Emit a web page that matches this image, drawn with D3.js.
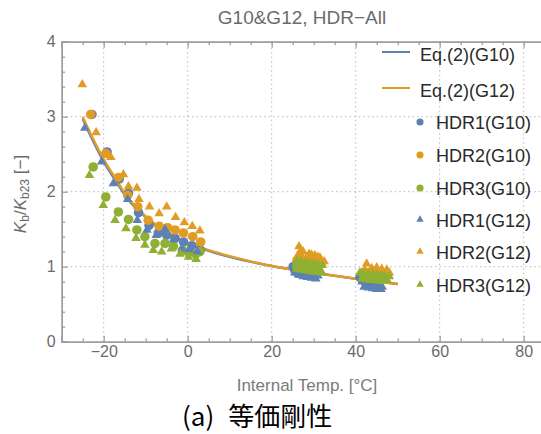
<!DOCTYPE html>
<html>
<head>
<meta charset="utf-8">
<script src="https://cdn.jsdelivr.net/npm/d3@7"></script>
<style>
  body { margin: 0; background: #fff; }
  svg { display: block; font-family: "Liberation Sans", Arial, sans-serif; }
</style>
</head>
<body>
<div id="chart"></div>
<script>
var WIDTH = 541;
var HEIGHT = 434;

// ----- data: [internal temp, Kb/Kb23]
var xTickValues = [-20, 0, 20, 40, 60, 80];
var yTickValues = [0, 1, 2, 3, 4];

var eqG10 = [[-25, 2.97], [-23, 2.73], [-20, 2.40], [-17, 2.13], [-14.5, 1.92], [-12, 1.76],
  [-10, 1.66], [-5, 1.45], [0, 1.31], [5, 1.21], [10, 1.13], [20, 1.01], [30, 0.92],
  [40, 0.84], [50, 0.77]];
var eqG12 = [[-25, 3.00], [-23, 2.76], [-20, 2.43], [-17, 2.16], [-14.5, 1.94], [-12, 1.78],
  [-10, 1.67], [-5, 1.46], [0, 1.32], [5, 1.22], [10, 1.14], [20, 1.01], [30, 0.92],
  [40, 0.84], [50, 0.77]];

var hdr1G10 = [[-22.8, 3.03], [-19.2, 2.53], [-16.3, 2.17], [-14.1, 1.98], [-11.7, 1.72],
  [-9.2, 1.55], [-7.0, 1.45], [-5.0, 1.42], [-3.0, 1.38], [-1.0, 1.33], [1.0, 1.28], [3.0, 1.22],
  [25.1, 1.00], [25.5, 0.95], [26.0, 0.92], [27.0, 0.90], [28.0, 0.89], [29.0, 0.88], [30.0, 0.87],
  [41.0, 0.86], [41.5, 0.83], [42.0, 0.81], [43.0, 0.79], [44.0, 0.78], [45.0, 0.77]];
var hdr2G10 = [[-23.1, 3.03], [-19.5, 2.51], [-16.5, 2.19], [-14.3, 1.95], [-11.9, 1.80],
  [-9.4, 1.62], [-6.8, 1.54], [-4.8, 1.52], [-3.0, 1.49], [-1.0, 1.45], [1.2, 1.40], [3.1, 1.33],
  [26.0, 1.08], [27.0, 1.07], [28.0, 1.06], [29.0, 1.05], [30.0, 1.04], [31.0, 1.03],
  [42.0, 0.93], [43.0, 0.92], [44.0, 0.91], [45.0, 0.90], [46.0, 0.89], [47.0, 0.88]];
var hdr3G10 = [[-22.5, 2.33], [-19.5, 1.93], [-16.5, 1.73], [-14.1, 1.63], [-12.1, 1.49],
  [-10.2, 1.40], [-7.8, 1.31], [-5.4, 1.31], [-3.4, 1.27], [-1.2, 1.22], [0.2, 1.19], [1.9, 1.17],
  [2.9, 1.20],
  [26.0, 1.00], [27.0, 0.99], [28.0, 0.98], [29.0, 0.97], [30.0, 0.96], [31.0, 0.95],
  [42.0, 0.87], [43.0, 0.86], [44.0, 0.86], [45.0, 0.85], [46.0, 0.85], [47.0, 0.84]];
var hdr1G12 = [[-24.5, 2.85], [-20.5, 2.40], [-17.7, 2.11], [-14.3, 1.90], [-12.0, 1.62],
  [-9.7, 1.49], [-7.5, 1.42], [-5.4, 1.50], [-3.4, 1.36], [-1.4, 1.24], [0.4, 1.23], [2.3, 1.20],
  [25.5, 0.92], [26.5, 0.89], [27.5, 0.87], [28.5, 0.86], [29.5, 0.85], [30.5, 0.84],
  [26.0, 0.95], [27.0, 0.93], [28.0, 0.91], [29.0, 0.90], [30.0, 0.89], [31.0, 0.88],
  [41.5, 0.80], [42.5, 0.78], [43.5, 0.76], [44.5, 0.75], [45.5, 0.74], [46.3, 0.73],
  [42.0, 0.73], [43.0, 0.72], [44.0, 0.71], [45.0, 0.70], [46.0, 0.70]];
var hdr2G12 = [[-25.1, 3.43], [-21.8, 2.79], [-18.3, 2.46], [-15.3, 2.23], [-14.1, 2.07],
  [-12.1, 2.05], [-11.6, 1.90], [-9.1, 1.80], [-6.8, 1.71], [-5.0, 1.80], [-2.9, 1.66],
  [-0.8, 1.59], [1.1, 1.54], [2.9, 1.48],
  [26.5, 1.27], [27.5, 1.20], [28.9, 1.17], [30.3, 1.15], [31.5, 1.12], [32.5, 1.07],
  [27.0, 1.22], [29.5, 1.16], [31.0, 1.13],
  [26.2, 1.15], [27.2, 1.14], [28.4, 1.12], [29.6, 1.10], [30.8, 1.08], [32.0, 1.05],
  [42.6, 1.04], [43.8, 0.98], [45.0, 0.99], [46.2, 0.97], [47.4, 0.96],
  [42.3, 0.95], [43.5, 0.93], [44.7, 0.92], [45.9, 0.91], [47.1, 0.90], [48.0, 0.92]];
var hdr3G12 = [[-23.4, 2.22], [-20.1, 1.82], [-17.3, 1.62], [-14.7, 1.51], [-12.3, 1.38],
  [-10.2, 1.29], [-8.2, 1.22], [-6.2, 1.20], [-3.9, 1.24], [-1.8, 1.17], [0.2, 1.13], [2.0, 1.10],
  [26.0, 1.08], [27.0, 1.07], [28.0, 1.06], [29.0, 1.05], [30.0, 1.04], [31.0, 1.03], [32.0, 1.02],
  [26.5, 1.03], [28.5, 1.00], [30.5, 0.98],
  [26.0, 0.97], [27.0, 0.96], [28.0, 0.95], [29.0, 0.94], [30.0, 0.93], [31.0, 0.93], [32.0, 0.92],
  [41.0, 0.92], [42.0, 0.91], [43.0, 0.90], [44.0, 0.90], [45.0, 0.89], [46.0, 0.89],
  [47.0, 0.88], [48.0, 0.87],
  [41.5, 0.84], [42.5, 0.83], [43.5, 0.82], [44.5, 0.82], [45.5, 0.81], [46.5, 0.81], [47.5, 0.82]];

var BLUE = "#5e81b5";
var ORANGE = "#e19c24";
var GREEN = "#8fb032";

var curves = [
  { name: "Eq.(2)(G10)", color: BLUE, data: eqG10 },
  { name: "Eq.(2)(G12)", color: ORANGE, data: eqG12 }
];
var series = [
  { name: "HDR1(G10)", color: BLUE, shape: "circle", data: hdr1G10 },
  { name: "HDR2(G10)", color: ORANGE, shape: "circle", data: hdr2G10 },
  { name: "HDR3(G10)", color: GREEN, shape: "circle", data: hdr3G10 },
  { name: "HDR1(G12)", color: BLUE, shape: "triangle", data: hdr1G12 },
  { name: "HDR2(G12)", color: ORANGE, shape: "triangle", data: hdr2G12 },
  { name: "HDR3(G12)", color: GREEN, shape: "triangle", data: hdr3G12 }
];

var x = d3.scaleLinear().domain([-30, 85]).range([61.7, 544.7]);
var y = d3.scaleLinear().domain([0, 4]).range([341.7, 41.7]);

var svg = d3.select("#chart").append("svg")
  .attr("width", WIDTH)
  .attr("height", HEIGHT);

// dotted grid at major ticks
var grid = svg.append("g")
  .attr("stroke", "#b8b8b8")
  .attr("stroke-width", 1)
  .attr("stroke-dasharray", "1.5,3");
grid.selectAll(".gx")
  .data(xTickValues)
  .enter()
  .append("line")
  .attr("x1", function(d) { return x(d); })
  .attr("x2", function(d) { return x(d); })
  .attr("y1", y(0))
  .attr("y2", y(4));
grid.selectAll(".gy")
  .data([1, 2, 3])
  .enter()
  .append("line")
  .attr("x1", x(-30))
  .attr("x2", x(85))
  .attr("y1", function(d) { return y(d); })
  .attr("y2", function(d) { return y(d); });

// frame with inward ticks
var xMinor = d3.range(-25, 85, 5).filter(function(v) { return v % 20 !== 0; });
var yMinor = d3.range(0.2, 4, 0.2).filter(function(v) { return Math.abs(v - Math.round(v)) > 0.01; });

function styleAxis(g) {
  g.selectAll(".domain").attr("stroke", "#9a9a9a").attr("stroke-width", 1.3);
  g.selectAll(".tick line").attr("stroke", "#9a9a9a").attr("stroke-width", 1.2);
  g.selectAll(".tick text")
    .attr("fill", "#6b6b6b")
    .style("font-size", "16px")
    .style("font-family", "'Liberation Sans', Arial, sans-serif");
}

svg.append("g")
  .attr("transform", "translate(0," + y(0) + ")")
  .call(d3.axisBottom(x).tickValues(xMinor).tickSize(-3.5).tickFormat(""))
  .call(styleAxis);
svg.append("g")
  .attr("transform", "translate(0," + y(0) + ")")
  .call(d3.axisBottom(x).tickValues(xTickValues).tickSize(-6).tickPadding(4))
  .call(styleAxis);
svg.append("g")
  .attr("transform", "translate(0," + y(4) + ")")
  .call(d3.axisTop(x).tickValues(xMinor).tickSize(-3.5).tickFormat(""))
  .call(styleAxis);
svg.append("g")
  .attr("transform", "translate(0," + y(4) + ")")
  .call(d3.axisTop(x).tickValues(xTickValues).tickSize(-6).tickFormat(""))
  .call(styleAxis);
svg.append("g")
  .attr("transform", "translate(" + x(-30) + ",0)")
  .call(d3.axisLeft(y).tickValues(yMinor).tickSize(-3.5).tickFormat(""))
  .call(styleAxis);
svg.append("g")
  .attr("transform", "translate(" + x(-30) + ",0)")
  .call(d3.axisLeft(y).tickValues(yTickValues).tickSize(-6).tickPadding(6).tickFormat(d3.format("d")))
  .call(styleAxis);

// fitted curves
var line = d3.line()
  .x(function(d) { return x(d[0]); })
  .y(function(d) { return y(d[1]); })
  .curve(d3.curveMonotoneX);
svg.selectAll(".curve")
  .data(curves)
  .enter()
  .append("path")
  .attr("class", "curve")
  .attr("d", function(d) { return line(d.data); })
  .attr("fill", "none")
  .attr("stroke", function(d) { return d.color; })
  .attr("stroke-width", 2.4);

// markers
var circleSym = d3.symbol().type(d3.symbolCircle).size(72);
var triSym = d3.symbol().type(d3.symbolTriangle).size(40);
series.forEach(function(s) {
  svg.append("g").selectAll("path")
    .data(s.data)
    .enter()
    .append("path")
    .attr("transform", function(d) {
      return "translate(" + x(d[0]) + "," + y(d[1]) + ")";
    })
    .attr("d", s.shape === "circle" ? circleSym() : triSym())
    .attr("fill", s.color);
});

// legend
var legend = svg.append("g")
  .style("font-size", "18px")
  .attr("fill", "#2a2a2a");
var curveRows = [52, 88];
var markRows = [122, 155, 188, 219.5, 251.5, 284.5];
curves.forEach(function(c, i) {
  legend.append("line")
    .attr("x1", 382).attr("x2", 410)
    .attr("y1", curveRows[i]).attr("y2", curveRows[i])
    .attr("stroke", c.color)
    .attr("stroke-width", 2);
  legend.append("text")
    .attr("x", 420)
    .attr("y", curveRows[i] + 9)
    .text(c.name);
});
var legCircle = d3.symbol().type(d3.symbolCircle).size(40);
var legTri = d3.symbol().type(d3.symbolTriangle).size(24);
series.forEach(function(s, i) {
  legend.append("path")
    .attr("transform", "translate(420," + markRows[i] + ")")
    .attr("d", s.shape === "circle" ? legCircle() : legTri())
    .attr("fill", s.color);
  legend.append("text")
    .attr("x", 436)
    .attr("y", markRows[i] + 7)
    .text(s.name);
});

// titles and labels
svg.append("text")
  .attr("x", 302)
  .attr("y", 24)
  .attr("text-anchor", "middle")
  .attr("fill", "#6b6b6b")
  .style("font-size", "19px")
  .text("G10&G12, HDR\u2212All");

svg.append("text")
  .attr("x", 307)
  .attr("y", 391)
  .attr("text-anchor", "middle")
  .attr("fill", "#7a7a7a")
  .style("font-size", "17px")
  .text("Internal Temp. [\u00b0C]");

var yLabel = svg.append("text")
  .attr("transform", "translate(26,194) rotate(-90)")
  .attr("text-anchor", "middle")
  .attr("fill", "#6b6b6b")
  .style("font-size", "17px");
yLabel.append("tspan").style("font-style", "italic").text("K");
yLabel.append("tspan").attr("dy", 3).style("font-size", "12px").text("b");
yLabel.append("tspan").attr("dy", -3).text("/");
yLabel.append("tspan").style("font-style", "italic").text("K");
yLabel.append("tspan").attr("dy", 3).style("font-size", "12px").text("b23");
yLabel.append("tspan").attr("dy", -3).text(" [\u2212]");

var caption = svg.append("text")
  .attr("x", 182)
  .attr("y", 426)
  .attr("fill", "#000")
  .style("font-family", "'Noto Sans CJK JP', sans-serif")
  .style("font-size", "26px");
caption.append("tspan").text("(a)");
caption.append("tspan").attr("dx", 14).text("等価剛性");
</script>
</body>
</html>
